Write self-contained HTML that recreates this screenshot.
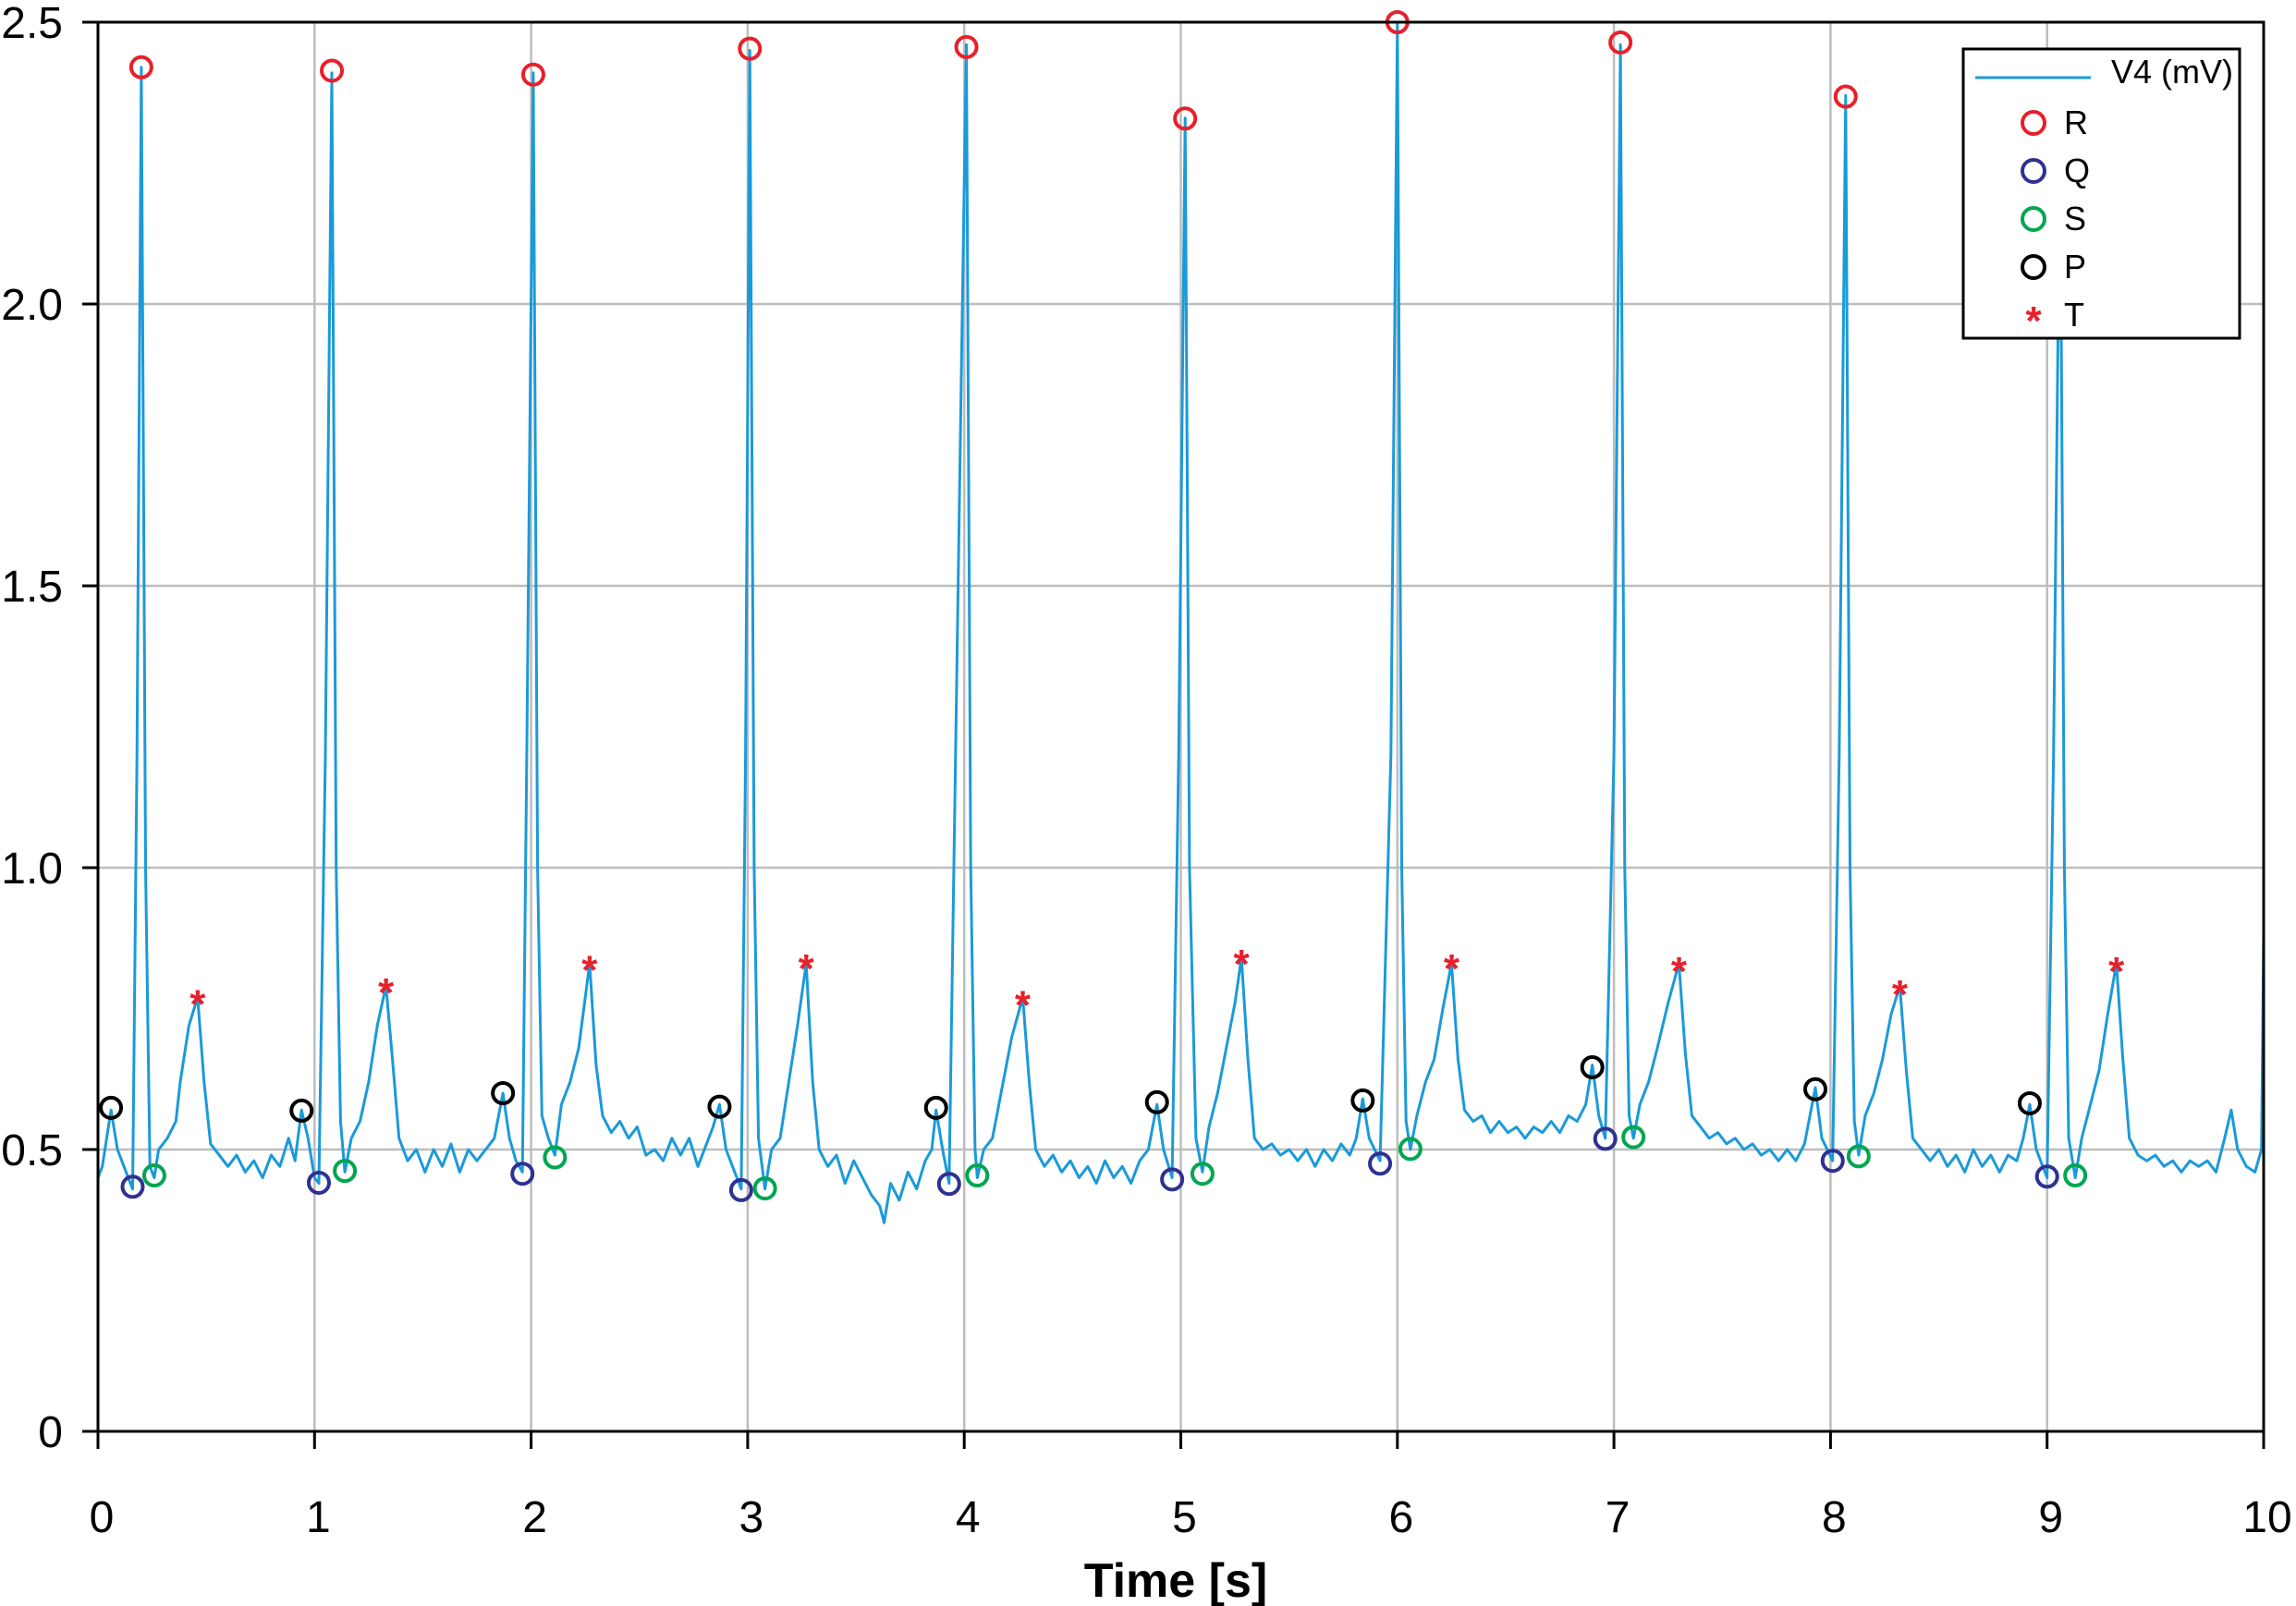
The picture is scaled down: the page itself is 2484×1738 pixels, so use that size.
<!DOCTYPE html>
<html><head><meta charset="utf-8">
<style>
html,body{margin:0;padding:0;background:#fff;}
svg{display:block;font-family:"Liberation Sans",sans-serif;}
</style></head>
<body>
<svg id="chart" width="2484" height="1738" viewBox="0 0 2484 1738" xmlns="http://www.w3.org/2000/svg">
<g id="grid"></g>
<g id="trace"></g>
<g id="marks"></g>
<g id="axes"></g>
<text x="1272" y="1728" text-anchor="middle" font-size="52" font-weight="bold">Time [s]</text>
<g>
  <rect x="2124" y="53" width="299" height="313" fill="#fff" stroke="#000" stroke-width="3"/>
  <line x1="2137" y1="84" x2="2262" y2="84" stroke="#1a9ad9" stroke-width="3"/>
  <text x="2284" y="90" font-size="36">V4 (mV)</text>
  <circle cx="2200" cy="133" r="12" fill="none" stroke="#e8202a" stroke-width="4"/>
  <text x="2233" y="145" font-size="36">R</text>
  <circle cx="2200" cy="185" r="12" fill="none" stroke="#2e3192" stroke-width="4"/>
  <text x="2233" y="197" font-size="36">Q</text>
  <circle cx="2200" cy="237" r="12" fill="none" stroke="#00a650" stroke-width="4"/>
  <text x="2233" y="249" font-size="36">S</text>
  <circle cx="2200" cy="289" r="12" fill="none" stroke="#000" stroke-width="4"/>
  <text x="2233" y="301" font-size="36">P</text>
  <text x="2200" y="362" font-size="44" font-weight="bold" fill="#e8202a" text-anchor="middle">*</text>
  <text x="2233" y="353" font-size="36">T</text>
</g>
</svg>
<script>
const xTicks=[0,1,2,3,4,5,6,7,8,9,10];
const yTicks=[0,0.5,1.0,1.5,2.0,2.5];
const yTickLabels=["0","0.5","1.0","1.5","2.0","2.5"];
const rT=[0.20,1.08,2.01,3.01,4.01,5.02,6.00,7.03,8.07,9.06];
const rV=[2.42,2.414,2.407,2.453,2.456,2.329,2.50,2.464,2.368,2.30];
const qT=[0.16,1.02,1.96,2.97,3.93,4.96,5.92,6.96,8.01,9.00];
const qV=[0.434,0.441,0.457,0.428,0.439,0.447,0.475,0.519,0.48,0.452];
const sT=[0.26,1.14,2.11,3.08,4.06,5.10,6.06,7.09,8.13,9.13];
const sV=[0.454,0.462,0.486,0.431,0.454,0.457,0.501,0.522,0.488,0.454];
const pT=[0.06,0.94,1.87,2.87,3.87,4.89,5.84,6.90,7.93,8.92];
const pV=[0.574,0.569,0.60,0.576,0.574,0.584,0.587,0.646,0.607,0.582];
const tT=[0.46,1.33,2.27,3.27,4.27,5.28,6.25,7.30,8.32,9.32];
const tV=[0.77,0.79,0.83,0.833,0.768,0.841,0.833,0.828,0.787,0.828];
const traceT=[0,0.02,0.04,0.06,0.09,0.12,0.15,0.16,0.18,0.20,0.22,0.24,0.26,0.28,0.32,0.36,0.38,0.42,0.46,0.49,0.52,0.56,0.60,0.64,0.68,0.72,0.76,0.80,0.84,0.88,0.91,
0.94,0.97,1.00,1.02,1.05,1.08,1.10,1.12,1.14,1.17,1.21,1.25,1.29,1.33,1.36,1.39,1.43,1.47,1.51,1.55,1.59,1.63,1.67,1.71,1.75,1.79,1.83,
1.87,1.90,1.93,1.96,1.98,2.01,2.03,2.05,2.08,2.11,2.14,2.18,2.22,2.27,2.30,2.33,2.37,2.41,2.45,2.49,2.53,2.57,2.61,2.65,2.69,2.73,2.77,2.81,2.84,
2.87,2.90,2.93,2.97,2.99,3.01,3.03,3.05,3.08,3.11,3.15,3.19,3.23,3.27,3.30,3.33,3.37,3.41,3.45,3.49,3.53,3.57,3.61,3.63,3.66,3.70,3.74,3.78,3.82,3.85,
3.87,3.90,3.93,3.96,4.01,4.03,4.05,4.06,4.09,4.13,4.17,4.22,4.27,4.30,4.33,4.37,4.41,4.45,4.49,4.53,4.57,4.61,4.65,4.69,4.73,4.77,4.81,4.85,
4.89,4.92,4.96,4.99,5.02,5.04,5.07,5.10,5.13,5.17,5.21,5.25,5.28,5.31,5.34,5.38,5.42,5.46,5.50,5.54,5.58,5.62,5.66,5.70,5.74,5.78,5.81,
5.84,5.87,5.92,5.97,6.00,6.02,6.04,6.06,6.09,6.13,6.17,6.21,6.25,6.28,6.31,6.35,6.39,6.43,6.47,6.51,6.55,6.59,6.63,6.67,6.71,6.75,6.79,6.83,6.87,
6.90,6.93,6.96,7.00,7.03,7.05,7.07,7.09,7.12,7.16,7.20,7.25,7.30,7.33,7.36,7.40,7.44,7.48,7.52,7.56,7.60,7.64,7.68,7.72,7.76,7.80,7.84,7.88,
7.93,7.96,8.01,8.04,8.07,8.09,8.11,8.13,8.16,8.20,8.24,8.28,8.32,8.35,8.38,8.42,8.46,8.50,8.54,8.58,8.62,8.66,8.70,8.74,8.78,8.82,8.86,8.89,
8.92,8.95,9.00,9.03,9.06,9.08,9.10,9.13,9.16,9.20,9.24,9.28,9.32,9.35,9.38,9.42,9.46,9.50,9.54,9.58,9.62,9.66,9.70,9.74,9.78,9.82,9.85,9.88,9.92,9.96,9.99,10.0];
const traceV=[0.45,0.47,0.52,0.57,0.50,0.47,0.44,0.43,1.2,2.42,1.0,0.47,0.45,0.50,0.52,0.55,0.62,0.72,0.77,0.62,0.51,0.49,0.47,0.49,0.46,0.48,0.45,0.49,0.47,0.52,0.48,
0.57,0.52,0.45,0.44,1.2,2.41,1.0,0.55,0.46,0.52,0.55,0.62,0.72,0.79,0.66,0.52,0.48,0.50,0.46,0.50,0.47,0.51,0.46,0.50,0.48,0.50,0.52,
0.60,0.52,0.48,0.46,1.2,2.41,1.0,0.56,0.52,0.49,0.58,0.62,0.68,0.83,0.65,0.56,0.53,0.55,0.52,0.54,0.49,0.50,0.48,0.52,0.49,0.52,0.47,0.51,0.54,
0.58,0.50,0.47,0.43,1.2,2.45,1.0,0.52,0.43,0.50,0.52,0.62,0.72,0.83,0.62,0.50,0.47,0.49,0.44,0.48,0.45,0.42,0.40,0.37,0.44,0.41,0.46,0.43,0.48,0.50,
0.57,0.50,0.44,1.2,2.46,1.0,0.50,0.45,0.50,0.52,0.60,0.70,0.77,0.62,0.50,0.47,0.49,0.46,0.48,0.45,0.47,0.44,0.48,0.45,0.47,0.44,0.48,0.50,
0.58,0.50,0.45,1.2,2.33,1.0,0.52,0.46,0.54,0.60,0.68,0.76,0.84,0.66,0.52,0.50,0.51,0.49,0.50,0.48,0.50,0.47,0.50,0.48,0.51,0.49,0.52,
0.59,0.52,0.48,1.2,2.50,1.0,0.55,0.50,0.56,0.62,0.66,0.75,0.83,0.66,0.57,0.55,0.56,0.53,0.55,0.53,0.54,0.52,0.54,0.53,0.55,0.53,0.56,0.55,0.58,
0.65,0.56,0.52,1.2,2.46,1.0,0.56,0.52,0.58,0.62,0.68,0.76,0.83,0.67,0.56,0.54,0.52,0.53,0.51,0.52,0.50,0.51,0.49,0.50,0.48,0.50,0.48,0.51,
0.61,0.52,0.48,1.2,2.37,1.0,0.55,0.49,0.56,0.60,0.66,0.74,0.79,0.64,0.52,0.50,0.48,0.50,0.47,0.49,0.46,0.50,0.47,0.49,0.46,0.49,0.48,0.52,
0.58,0.50,0.45,1.2,2.30,1.0,0.52,0.45,0.52,0.58,0.64,0.74,0.83,0.66,0.52,0.49,0.48,0.49,0.47,0.48,0.46,0.48,0.47,0.48,0.46,0.52,0.57,0.50,0.47,0.46,0.50,0.88];

const L=106,R=2449,T=24,B=1549;
const X=t=>L+(t-0)/(10-0)*(R-L);
const Y=v=>B-(v-0)/(2.5-0)*(B-T);
const NS="http://www.w3.org/2000/svg";
function mk(tag,parent,attrs){const e=document.createElementNS(NS,tag);for(const k in attrs)e.setAttribute(k,attrs[k]);parent.appendChild(e);return e;}
const grid=document.getElementById('grid'),axes=document.getElementById('axes'),trace=document.getElementById('trace'),marks=document.getElementById('marks');

xTicks.forEach(t=>{
  if(t>0&&t<10){const g=mk('line',grid,{x1:X(t),x2:X(t),y1:T,y2:B,stroke:'#bdbdbd','stroke-width':2.5});
  
  }
  const tk=mk('line',axes,{x1:X(t),x2:X(t),y1:B,y2:B+19,stroke:'#000','stroke-width':3});
  
  
  const lb=mk('text',axes,{x:X(t)+4,y:1658,'font-size':48,'text-anchor':'middle'});
  lb.textContent=String(t);
  
  
});
yTicks.forEach((v,i)=>{
  if(v>0&&v<2.5){const g=mk('line',grid,{x1:L,x2:R,y1:Y(v),y2:Y(v),stroke:'#bdbdbd','stroke-width':2.5});
  
  }
  const tk=mk('line',axes,{x1:L-17,x2:L,y1:Y(v),y2:Y(v),stroke:'#000','stroke-width':3});
  
  
  const lb=mk('text',axes,{x:68,y:Y(v)+17,'font-size':48,'text-anchor':'end'});
  lb.textContent=yTickLabels[i];
  
  
});
const frame=mk('rect',axes,{x:L,y:T,width:R-L,height:B-T,fill:'none',stroke:'#000','stroke-width':3});



const pts=traceT.map((t,i)=>X(t).toFixed(1)+','+Y(traceV[i]).toFixed(1)).join(' ');
const pl=mk('polyline',trace,{points:pts,fill:'none',stroke:'#1a9ad9','stroke-width':3,'stroke-linejoin':'round'});



function circles(ts,vs,color,name){
  ts.forEach((t,i)=>{
    const c=mk('circle',marks,{cx:X(t),cy:Y(vs[i]),r:11,fill:'none',stroke:color,'stroke-width':4});
    
    
  });
}
circles(rT,rV,'#e8202a','r-marker');
circles(qT,qV,'#2e3192','q-marker');
circles(sT,sV,'#00a650','s-marker');
circles(pT,pV,'#000','p-marker');
tT.forEach((t,i)=>{
  const s=mk('text',marks,{x:X(t),y:Y(tV[i])+22,'font-size':44,'font-weight':'bold',fill:'#e8202a','text-anchor':'middle'});
  s.textContent='*';
  
  
});
</script>
</body></html>
